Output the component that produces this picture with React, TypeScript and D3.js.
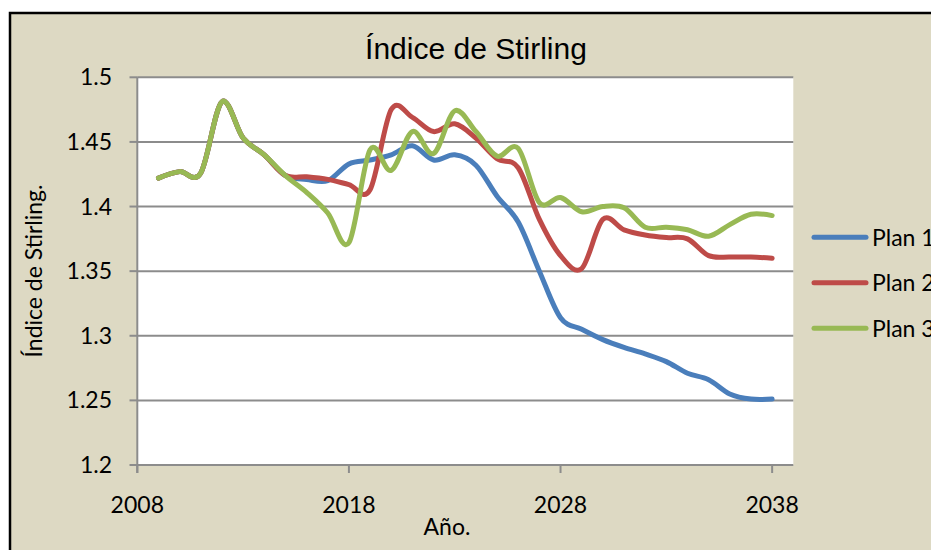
import React from "react";
import * as d3 from "d3";

const years = d3.range(2009, 2039);
const plan1 = [1.422, 1.427, 1.426, 1.481, 1.453, 1.44, 1.424, 1.421, 1.42, 1.433, 1.436, 1.44, 1.447, 1.436, 1.44, 1.432, 1.408, 1.388, 1.35, 1.314, 1.305, 1.297, 1.291, 1.286, 1.28, 1.271, 1.266, 1.255, 1.251, 1.251];
const plan2 = [1.422, 1.427, 1.426, 1.481, 1.453, 1.44, 1.424, 1.423, 1.421, 1.417, 1.413, 1.475, 1.469, 1.458, 1.464, 1.453, 1.437, 1.43, 1.39, 1.362, 1.352, 1.39, 1.382, 1.378, 1.376, 1.375, 1.362, 1.361, 1.361, 1.36];
const plan3 = [1.422, 1.427, 1.426, 1.481, 1.453, 1.44, 1.424, 1.411, 1.395, 1.372, 1.444, 1.428, 1.458, 1.441, 1.474, 1.458, 1.439, 1.445, 1.403, 1.407, 1.396, 1.4, 1.399, 1.384, 1.384, 1.382, 1.377, 1.386, 1.394, 1.393];
const seriesNames = ["Plan 1", "Plan 2", "Plan 3"];
const seriesColors = ["#4A7EBB", "#BE4B48", "#98B954"];
const xTicks = [2008, 2018, 2028, 2038];
const yTicks = [1.2, 1.25, 1.3, 1.35, 1.4, 1.45, 1.5];

const W = 931;
const H = 550;
const left = 137.3;
const right = 793.3;
const top = 77.3;
const bottom = 465;

export default function App() {
  const x = d3.scaleLinear().domain([2008, 2039]).range([left, right]);
  const y = d3.scaleLinear().domain([1.2, 1.5]).range([bottom, top]);
  const line = d3
    .line<number>()
    .x((_, i) => x(years[i]))
    .y((d) => y(d))
    .curve(d3.curveCatmullRom.alpha(0));
  const data = [plan1, plan2, plan3];
  const font = "Lato, 'Open Sans', sans-serif";
  const fmt = (v: number) => String(+v.toFixed(2));
  return (
    <svg
      width={W}
      height={H}
      style={{ position: "absolute", left: 0, top: 0 }}
      xmlns="http://www.w3.org/2000/svg"
    >
      <rect x={0} y={0} width={W} height={H} fill="#ffffff" />
      <rect x={10} y={13} width={W + 50} height={H + 50} fill="#DDD9C3" stroke="#000" strokeWidth={2.5} />
      <text x={476} y={59} textAnchor="middle" fontFamily="'Liberation Sans', Arial, sans-serif" fontSize={30} fill="#000">
        Índice de Stirling
      </text>
      <rect x={left} y={top} width={right - left} height={bottom - top} fill="#ffffff" />
      {yTicks.map((t) => (
        <g key={t}>
          <line x1={left} x2={right} y1={y(t)} y2={y(t)} stroke="#8C8C8C" strokeWidth={2} />
          <line x1={129.5} x2={left} y1={y(t)} y2={y(t)} stroke="#8C8C8C" strokeWidth={2} />
          <text x={112} y={y(t)} dy="0.35em" textAnchor="end" fontFamily={font} fontSize={23} fill="#000">
            {fmt(t)}
          </text>
        </g>
      ))}
      <line x1={left} x2={left} y1={top} y2={bottom + 8} stroke="#8C8C8C" strokeWidth={2} />
      {xTicks.map((t) => (
        <g key={t}>
          <line x1={x(t)} x2={x(t)} y1={bottom} y2={bottom + 8} stroke="#8C8C8C" strokeWidth={2} />
          <text x={x(t)} y={513} textAnchor="middle" fontFamily={font} fontSize={23} fill="#000">
            {t}
          </text>
        </g>
      ))}
      {data.map((s, i) => (
        <path
          key={i}
          d={line(s) || ""}
          fill="none"
          stroke={seriesColors[i]}
          strokeWidth={5}
          strokeLinecap="round"
          strokeLinejoin="round"
        />
      ))}
      <text x={447} y={535} textAnchor="middle" fontFamily={font} fontSize={23} fill="#000">
        Año.
      </text>
      <text
        transform={`translate(42, 271) rotate(-90)`}
        textAnchor="middle"
        fontFamily={font}
        fontSize={23}
        fill="#000"
      >
        Índice de Stirling.
      </text>
      {seriesNames.map((n, i) => {
        const ly = 237.3 + i * 45.5;
        return (
          <g key={n}>
            <line x1={814} x2={866} y1={ly} y2={ly} stroke={seriesColors[i]} strokeWidth={5} strokeLinecap="round" />
            <text x={872} y={ly} dy="0.36em" fontFamily={font} fontSize={23} fill="#000">
              {n}
            </text>
          </g>
        );
      })}
    </svg>
  );
}
